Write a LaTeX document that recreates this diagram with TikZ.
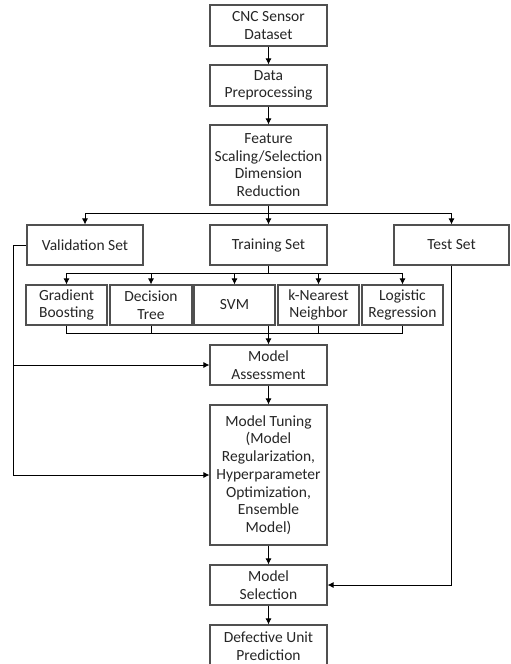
\documentclass[tikz,border=0pt]{standalone}
\usepackage{fontspec}
\setmainfont{Carlito}
\usetikzlibrary{arrows.meta}
\definecolor{boxline}{HTML}{505050}
\definecolor{txt}{HTML}{262626}
\tikzset{
  bx/.style={draw=boxline, line width=1.1pt, fill=white, rectangle, inner sep=0pt, align=center, text=txt,
    font=\fontsize{15.5pt}{17.7pt}\selectfont},
  arr/.style={-{Latex[length=6pt,width=6pt]}, line width=0.9pt},
  ln/.style={line width=0.9pt}
}
\begin{document}
\begin{tikzpicture}[x=1pt,y=-1pt]
\useasboundingbox (0,0) rectangle (511,664);
\clip (0,0) rectangle (511,664);
\node[bx, minimum width=117pt, minimum height=41pt] (cnc) at (268.5,25.5) {CNC Sensor\\Dataset};
\node[bx, minimum width=117pt, minimum height=41pt] (prep) at (268.5,85.5) {Data\\Preprocessing};
\node[bx, minimum width=117pt, minimum height=80pt] (feat) at (268.5,165) {Feature\\Scaling/Selection\\Dimension\\Reduction};
\node[bx, minimum width=116pt, minimum height=40pt] (val) at (85,245) {Validation Set};
\node[bx, minimum width=117pt, minimum height=40pt] (train) at (268.5,245) {Training Set};
\node[bx, minimum width=115pt, minimum height=40pt] (test) at (451.5,245) {Test Set};
\node[bx, minimum width=81pt, minimum height=40pt] (gb) at (66.5,305) {Gradient\\Boosting};
\node[bx, minimum width=82pt, minimum height=40pt] (dt) at (151,305) {Decision\\Tree};
\node[bx, minimum width=81pt, minimum height=40pt] (svm) at (234.5,305) {SVM};
\node[bx, minimum width=81pt, minimum height=40pt] (knn) at (318.5,305) {k-Nearest\\Neighbor};
\node[bx, minimum width=81pt, minimum height=40pt] (lr) at (402.5,305) {Logistic\\Regression};
\node[bx, minimum width=117pt, minimum height=40pt] (assess) at (268.5,365) {Model\\Assessment};
\node[bx, minimum width=117pt, minimum height=140pt] (tune) at (268.5,475) {Model Tuning\\(Model\\Regularization,\\Hyperparameter\\Optimization,\\Ensemble\\Model)};
\node[bx, minimum width=117pt, minimum height=40pt] (sel) at (268.5,585) {Model\\Selection};
\node[bx, minimum width=117pt, minimum height=42pt] (def) at (268.5,646) {Defective Unit\\Prediction};
\coordinate (b1) at (268.5,213);
\coordinate (b2) at (268.5,273);
\coordinate (b3) at (268.5,333);
\coordinate (vl) at (13,245);
\draw[arr] (cnc) -- (prep);
\draw[arr] (prep) -- (feat);
\draw[ln] (feat.south) -- (b1);
\draw[arr] (b1) -- (train.north);
\draw[arr] (b1) -| (val.north);
\draw[arr] (b1) -| (test.north);
\draw[ln] (train.south) -- (b2);
\draw[arr] (b2) -| (gb.north);
\draw[arr] (b2) -| (dt.north);
\draw[arr] (b2) -| (svm.north);
\draw[arr] (b2) -| (knn.north);
\draw[arr] (b2) -| (lr.north);
\draw[ln] (gb.south) -- (gb.south |- b3) -- (lr.south |- b3) -- (lr.south);
\draw[ln] (dt.south) -- (dt.south |- b3);
\draw[ln] (knn.south) -- (knn.south |- b3);
\draw[arr] (assess.north |- svm.south) -- (assess.north);
\draw[arr] (assess) -- (tune);
\draw[arr] (tune) -- (sel);
\draw[arr] (sel) -- (def);
\draw[ln] (val.west) -- (vl) -- (vl |- tune.west);
\draw[arr] (vl |- assess.west) -- (assess.west);
\draw[arr] (vl |- tune.west) -- (tune.west);
\draw[arr] (test.south) |- (sel.east);
\end{tikzpicture}
\end{document}
